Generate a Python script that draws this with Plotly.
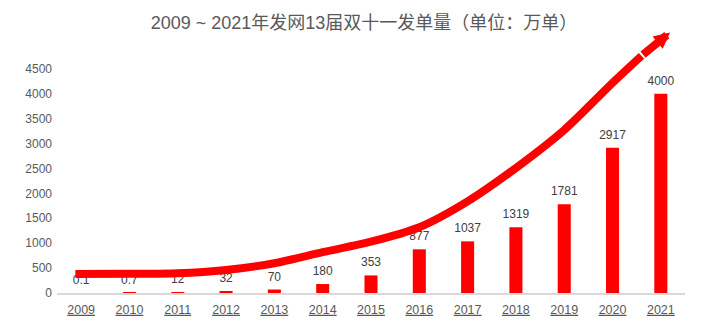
import plotly.graph_objects as go

# 双十一发单量（万单）
years = ["2009", "2010", "2011", "2012", "2013", "2014", "2015",
         "2016", "2017", "2018", "2019", "2020", "2021"]
orders = [0.1, 0.7, 12, 32, 70, 180, 353, 877, 1037, 1319, 1781, 2917, 4000]
labels = ["0.1", "0.7", "12", "32", "70", "180", "353", "877", "1037",
          "1319", "1781", "2917", "4000"]
y_ticks = [0, 500, 1000, 1500, 2000, 2500, 3000, 3500, 4000, 4500]

# 增长趋势箭头（装饰曲线，单位同 y 轴）
trend_x = [-0.12, 1, 2, 3, 4, 5, 6, 7, 8, 9, 10, 11, 11.6]
trend_y = [382, 385, 396, 462, 598, 820, 1030, 1320, 1840, 2511, 3274, 4219, 4760]
arrow_tip = (12.19, 5230)

idx = list(range(len(years)))
font_family = "Liberation Sans, Arial, Noto Sans CJK SC, sans-serif"

fig = go.Figure()
fig.add_trace(go.Bar(
    x=idx, y=orders, width=0.27,
    marker=dict(color="#FF0000", line=dict(width=0)),
    hoverinfo="skip",
))
fig.add_trace(go.Scatter(
    x=idx, y=orders, mode="markers+text", text=labels,
    textposition="top center",
    marker=dict(size=8, color="rgba(0,0,0,0)"),
    textfont=dict(size=12, color="#404040", family=font_family),
    hoverinfo="skip",
))
fig.add_trace(go.Scatter(
    x=trend_x, y=trend_y, mode="lines",
    line=dict(color="#FF0000", width=8, shape="spline", smoothing=0.8),
    hoverinfo="skip",
))
fig.add_annotation(
    x=arrow_tip[0], y=arrow_tip[1], ax=trend_x[-1], ay=trend_y[-1],
    xref="x", yref="y", axref="x", ayref="y",
    showarrow=True, arrowhead=2, arrowsize=0.4, arrowwidth=8,
    arrowcolor="#FF0000", text="",
)

fig.update_layout(
    width=728, height=331,
    margin=dict(l=57, r=43, t=29, b=38),
    paper_bgcolor="white", plot_bgcolor="white",
    showlegend=False,
    font=dict(family=font_family, color="#595959"),
    title=dict(
        text="2009 ~ 2021年发网13届双十一发单量（单位：万单）",
        x=0.5, xanchor="center", y=0.93, yanchor="middle",
        font=dict(size=18, color="#595959", family=font_family),
    ),
    xaxis=dict(
        range=[-0.5, 12.5], tickmode="array", tickvals=idx,
        ticktext=[f"<u>{y}</u>" for y in years],
        tickfont=dict(size=12.5, color="#595959"),
        showgrid=False, zeroline=False,
        showline=True, linecolor="#D9D9D9", linewidth=1.5,
        ticks="", ticklabelstandoff=4,
    ),
    yaxis=dict(
        range=[0, 5300], tickmode="array", tickvals=y_ticks,
        tickfont=dict(size=12, color="#595959"),
        showgrid=False, zeroline=False, showline=False,
        ticks="", ticklabelstandoff=4,
    ),
)

fig.write_html("out.html")
